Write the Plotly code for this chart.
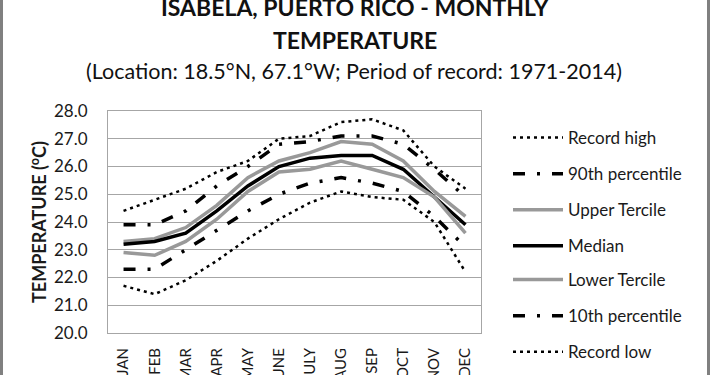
import plotly.graph_objects as go

months = ["JAN", "FEB", "MAR", "APR", "MAY", "JUNE", "JULY", "AUG", "SEP", "OCT", "NOV", "DEC"]
record_high = [24.4, 24.8, 25.2, 25.8, 26.2, 27.0, 27.1, 27.6, 27.7, 27.3, 26.0, 25.2]
p90 = [23.9, 23.9, 24.4, 25.3, 26.0, 26.8, 26.9, 27.1, 27.1, 26.8, 25.9, 24.9]
upper_tercile = [23.3, 23.4, 23.8, 24.6, 25.6, 26.2, 26.5, 26.9, 26.8, 26.2, 25.1, 24.2]
median = [23.2, 23.3, 23.6, 24.4, 25.3, 26.0, 26.3, 26.4, 26.4, 25.9, 24.9, 23.9]
lower_tercile = [22.9, 22.8, 23.3, 24.1, 25.1, 25.8, 25.9, 26.2, 25.9, 25.6, 24.9, 23.6]
p10 = [22.3, 22.3, 23.0, 23.7, 24.4, 25.0, 25.4, 25.6, 25.4, 25.1, 24.2, 23.1]
record_low = [21.7, 21.4, 21.9, 22.6, 23.4, 24.1, 24.7, 25.1, 24.9, 24.8, 24.0, 22.2]
y_ticks = [20, 21, 22, 23, 24, 25, 26, 27, 28]

W, H = 710, 375
L, R, T, B = 108, 229, 111, 42
PW, PH = W - L - R, H - T - B

def px_x(x):
    return (x - L) / PW

def px_y(y):
    return (H - B - y) / PH

FONT = "Lato"
GRAY = "#999999"
TXT = "#1a1a1a"

series = [
    ("Record high", record_high, "black", 2.5, "3px,4px", "legend"),
    ("90th percentile", p90, "black", 3.5, "12px,12px,3px,12px", "legend"),
    ("Upper Tercile", upper_tercile, GRAY, 3.5, "solid", "legend"),
    ("Median", median, "black", 3.5, "solid", "legend"),
    ("Lower Tercile", lower_tercile, GRAY, 3.5, "solid", "legend2"),
    ("10th percentile", p10, "black", 3.5, "12px,12px,3px,12px", "legend2"),
    ("Record low", record_low, "black", 2.5, "3px,4px", "legend2"),
]

fig = go.Figure()
for i, (name, vals, col, w, dash, lg) in enumerate(series):
    fig.add_trace(go.Scatter(
        x=months, y=vals, name=name, mode="lines",
        line=dict(color=col, width=w, dash=dash),
        legendgroup=f"g{i}", legend=lg,
    ))

leg_common = dict(
    xanchor="left", yanchor="top",
    font=dict(size=17, family=FONT, color=TXT),
    traceorder="grouped", tracegroupgap=11,
    bgcolor="rgba(0,0,0,0)", itemwidth=50,
)

fig.update_layout(
    width=W, height=H,
    margin=dict(l=L, r=R, t=T, b=B, autoexpand=False),
    paper_bgcolor="white", plot_bgcolor="white",
    font=dict(family=FONT, color=TXT),
    showlegend=True,
    legend=dict(x=px_x(508), y=px_y(120), **leg_common),
    legend2=dict(x=px_x(508), y=px_y(262), **leg_common),
    xaxis=dict(
        range=[-0.5, len(months) - 0.5],
        tickangle=-90, tickfont=dict(size=15, family=FONT, color=TXT),
        showgrid=False, showline=True, mirror=True, linecolor="#a6a6a6", linewidth=1,
        ticks="outside", ticklen=8, tickcolor="rgba(0,0,0,0)", automargin=False,
    ),
    yaxis=dict(
        range=[20, 28], tickvals=y_ticks, tickformat=".1f",
        tickfont=dict(size=17, family=FONT, color=TXT),
        showgrid=True, gridcolor="#a6a6a6", gridwidth=1,
        showline=True, mirror=True, linecolor="#a6a6a6", linewidth=1,
        ticks="outside", ticklen=16, tickcolor="rgba(0,0,0,0)",
        zeroline=False, automargin=False,
        title=dict(text="<b>TEMPERATURE (<sup>o</sup>C)</b>", font=dict(size=18, family=FONT, color=TXT), standoff=2),
    ),
    annotations=[
        dict(text="<b>ISABELA, PUERTO RICO - MONTHLY</b>", x=px_x(355), y=px_y(6.5), xref="paper", yref="paper",
             xanchor="center", yanchor="middle", showarrow=False, font=dict(size=23, family=FONT, color="#111111")),
        dict(text="<b>TEMPERATURE</b>", x=px_x(355), y=px_y(40), xref="paper", yref="paper",
             xanchor="center", yanchor="middle", showarrow=False, font=dict(size=23, family=FONT, color="#111111")),
        dict(text="(Location: 18.5°N, 67.1°W; Period of record: 1971-2014)", x=px_x(354), y=px_y(71.5), xref="paper", yref="paper",
             xanchor="center", yanchor="middle", showarrow=False, font=dict(size=21.5, family=FONT, color="#111111")),
    ],
    shapes=[
        dict(type="line", xref="paper", yref="paper", x0=px_x(1.5), x1=px_x(1.5), y0=px_y(-10), y1=px_y(400),
             line=dict(color="#808080", width=3)),
        dict(type="line", xref="paper", yref="paper", x0=px_x(708.5), x1=px_x(708.5), y0=px_y(-10), y1=px_y(400),
             line=dict(color="#808080", width=3)),
    ],
)

fig.write_html("out.html", config={"displayModeBar": False},
               post_script="document.body.style.margin='0';document.body.style.overflow='hidden';")
